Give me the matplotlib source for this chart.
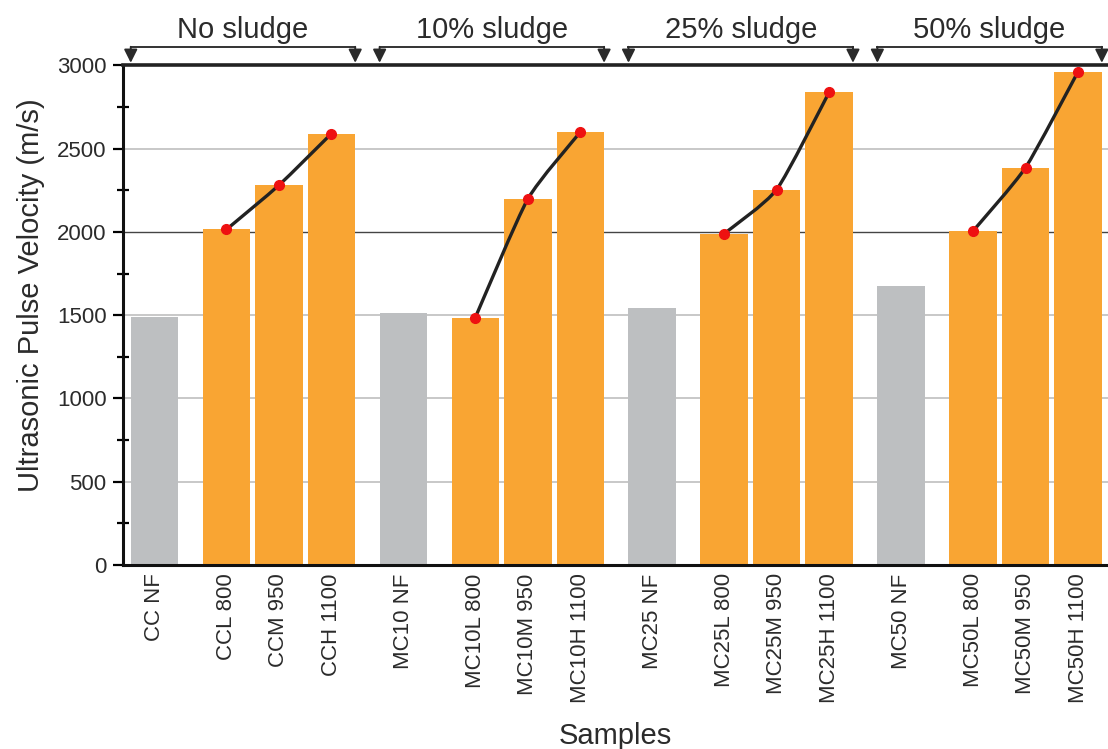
import numpy as np
import matplotlib.pyplot as plt
from matplotlib.path import Path
from matplotlib.patches import PathPatch

plt.rcParams['font.family'] = ['Liberation Sans', 'DejaVu Sans']

groups = ['No sludge', '10% sludge', '25% sludge', '50% sludge']
labels = ['CC NF', 'CCL 800', 'CCM 950', 'CCH 1100',
          'MC10 NF', 'MC10L 800', 'MC10M 950', 'MC10H 1100',
          'MC25 NF', 'MC25L 800', 'MC25M 950', 'MC25H 1100',
          'MC50 NF', 'MC50L 800', 'MC50M 950', 'MC50H 1100']
upv_nf = [1492, 1512, 1546, 1677]
upv_fired = [[2015, 2281, 2591],
             [1486, 2198, 2600],
             [1990, 2255, 2840],
             [2006, 2387, 2963]]

GRAY = '#bdbfc1'
ORANGE = '#f9a533'
TXT = '#2b2b2b'

# bar positions: NF bar, gap, then three fired bars side by side
group_step = 4.74
offsets = [0, 1.37, 2.37, 3.37]
width = 0.905

fig = plt.figure(figsize=(11.08, 7.49), dpi=100)
ax = fig.add_axes([0.1113, 0.2457, 0.8887, 0.6669])

xs, heights, colors = [], [], []
for g in range(4):
    base = g * group_step
    xs.append(base + offsets[0])
    heights.append(upv_nf[g])
    colors.append(GRAY)
    for k in range(3):
        xs.append(base + offsets[k + 1])
        heights.append(upv_fired[g][k])
        colors.append(ORANGE)

ax.bar(xs, heights, width=width, color=colors, zorder=2)

# lightly smoothed connector over the fired samples of each group
def smooth_path(px, py, k=0.1):
    pts = np.column_stack([px, py])
    n = len(pts)
    verts = [pts[0]]
    codes = [Path.MOVETO]
    for i in range(n - 1):
        p0 = pts[i - 1] if i > 0 else pts[i]
        p3 = pts[i + 2] if i + 2 < n else pts[i + 1]
        c1 = pts[i] + (pts[i + 1] - p0) * k
        c2 = pts[i + 1] - (p3 - pts[i]) * k
        verts += [c1, c2, pts[i + 1]]
        codes += [Path.CURVE4] * 3
    return Path(verts, codes)

for g in range(4):
    base = g * group_step
    px = [base + o for o in offsets[1:]]
    py = upv_fired[g]
    ax.add_patch(PathPatch(smooth_path(px, py), fill=False, edgecolor='#222222',
                           lw=2.4, zorder=3, capstyle='round'))
    ax.plot(px, py, 'o', color='#ee1111', ms=7, mec='#ee1111', zorder=4)

ax.set_ylim(0, 3000)
ax.set_xlim(-0.594, 18.16)

ax.set_yticks(np.arange(0, 3001, 500))
ax.set_yticks(np.arange(250, 3000, 500), minor=True)
ax.tick_params(axis='y', which='major', direction='out', length=7, width=1.6,
               labelsize=16, labelcolor=TXT, pad=5)
ax.tick_params(axis='y', which='minor', direction='inout', length=8, width=1.6)

ax.set_xticks(xs)
ax.set_xticklabels(labels, rotation=90)
ax.tick_params(axis='x', length=0, labelsize=16, labelcolor=TXT, pad=6)

for v in [500, 1000, 1500, 2500]:
    ax.axhline(v, color='#c4c4c4', lw=1.3, zorder=1)
ax.axhline(2000, color='#444444', lw=1.0, zorder=1)

for side in ['left', 'bottom']:
    ax.spines[side].set_linewidth(2.2)
    ax.spines[side].set_color('#111111')
ax.spines['top'].set_linewidth(2.6)
ax.spines['top'].set_color('#222222')
ax.spines['right'].set_visible(False)

ax.set_ylabel('Ultrasonic Pulse Velocity (m/s)', fontsize=21, color=TXT)
ax.yaxis.set_label_coords(-0.08, 0.54)
ax.set_xlabel('Samples', fontsize=21, color=TXT)
ax.xaxis.set_label_coords(0.5, -0.315)

# group brackets above the plot
for g, name in enumerate(groups):
    base = g * group_step
    x0 = base - width / 2
    x1 = base + offsets[3] + width / 2
    ax.plot([x0, x1], [3112, 3112], color='#333333', lw=1.4, clip_on=False)
    for xe in (x0, x1):
        ax.annotate('', xy=(xe, 3016), xytext=(xe, 3112), annotation_clip=False,
                    arrowprops=dict(arrowstyle='-|>,head_length=0.8,head_width=0.4',
                                    color='#2a2a2a', lw=1.4, shrinkA=0, shrinkB=0))
    ax.text((x0 + x1) / 2, 3215, name, ha='center', va='center', fontsize=21,
            color=TXT, clip_on=False)

fig.savefig('out.png', dpi=100)
